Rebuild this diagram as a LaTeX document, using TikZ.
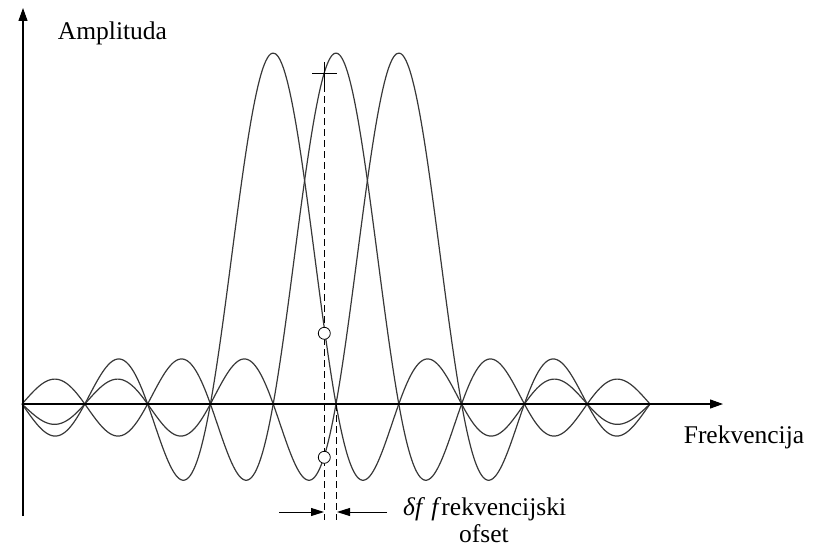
\documentclass[tikz,border=0pt]{standalone}
\usepackage{fontspec}
\setmainfont{Liberation Serif}
\usetikzlibrary{arrows.meta}
\begin{document}
\begin{tikzpicture}[x=1pt,y=-1pt,
  axisline/.style={line width=1.1pt,black,-{Triangle[length=13pt,width=9pt]}},
  curveline/.style={line width=1.2pt,black!78,line join=round},
  dashline/.style={line width=0.9pt,black,dash pattern=on 7pt off 4pt},
  dimarrow/.style={line width=0.9pt,black,-{Triangle[length=13pt,width=8pt]}},
  marker/.style={circle,draw=black,fill=white,line width=0.8pt,inner sep=0pt,minimum size=12pt},
  lbl/.style={font=\fontsize{25.5}{30}\selectfont,inner sep=0pt}
]
\useasboundingbox (0,0) rectangle (819,551);
% curves
\foreach \c in {273.2,336,398.8}{
  \draw[curveline] plot[domain=22:650,samples=400,smooth]
    (\x,{404-351*sin(deg(pi*(\x-\c)/62.8))/(pi*(\x-\c)/62.8)});
}
% axes
\coordinate (o) at (23,404);
\coordinate (ybot) at (23,516);
\coordinate (ytop) at (23,8);
\coordinate (xend) at (723,404);
\draw[axisline] (ybot) -- (ytop);
\draw[axisline] (o) -- (xend);
% dashed lines
\coordinate (d1top) at (324.3,74);
\coordinate (d1bot) at (324.3,520);
\coordinate (d2top) at (336.7,404);
\coordinate (d2bot) at (336.7,520);
\draw[dashline] (d1top) -- (d1bot);
\draw[dashline] (d2top) -- (d2bot);
% crosshair
\coordinate (chl) at (312,74);
\coordinate (chr) at (337,74);
\coordinate (cht) at (324.3,62);
\coordinate (chb) at (324.3,86);
\draw[line width=1pt] (chl) -- (chr);
\draw[line width=1pt] (cht) -- (chb);
% circles
\node[marker] (m1) at (324.3,333.3) {};
\node[marker] (m2) at (324.3,457.3) {};
% dimension arrows
\coordinate (a1s) at (279,512);
\coordinate (a1e) at (324,512);
\coordinate (a2s) at (387,512);
\coordinate (a2e) at (337,512);
\draw[dimarrow] (a1s) -- (a1e);
\draw[dimarrow] (a2s) -- (a2e);
% labels
\node[lbl,anchor=base] (amp) at (112.5,39.5) {Amplituda};
\node[lbl,anchor=base] (frek) at (744,443) {Frekvencija};
\node[lbl,anchor=base west] (df) at (403,515) {\textit{δf} \textit{f}rekvencijski};
\node[lbl,anchor=base] (ofs) at (484,542) {ofset};
\end{tikzpicture}
\end{document}
